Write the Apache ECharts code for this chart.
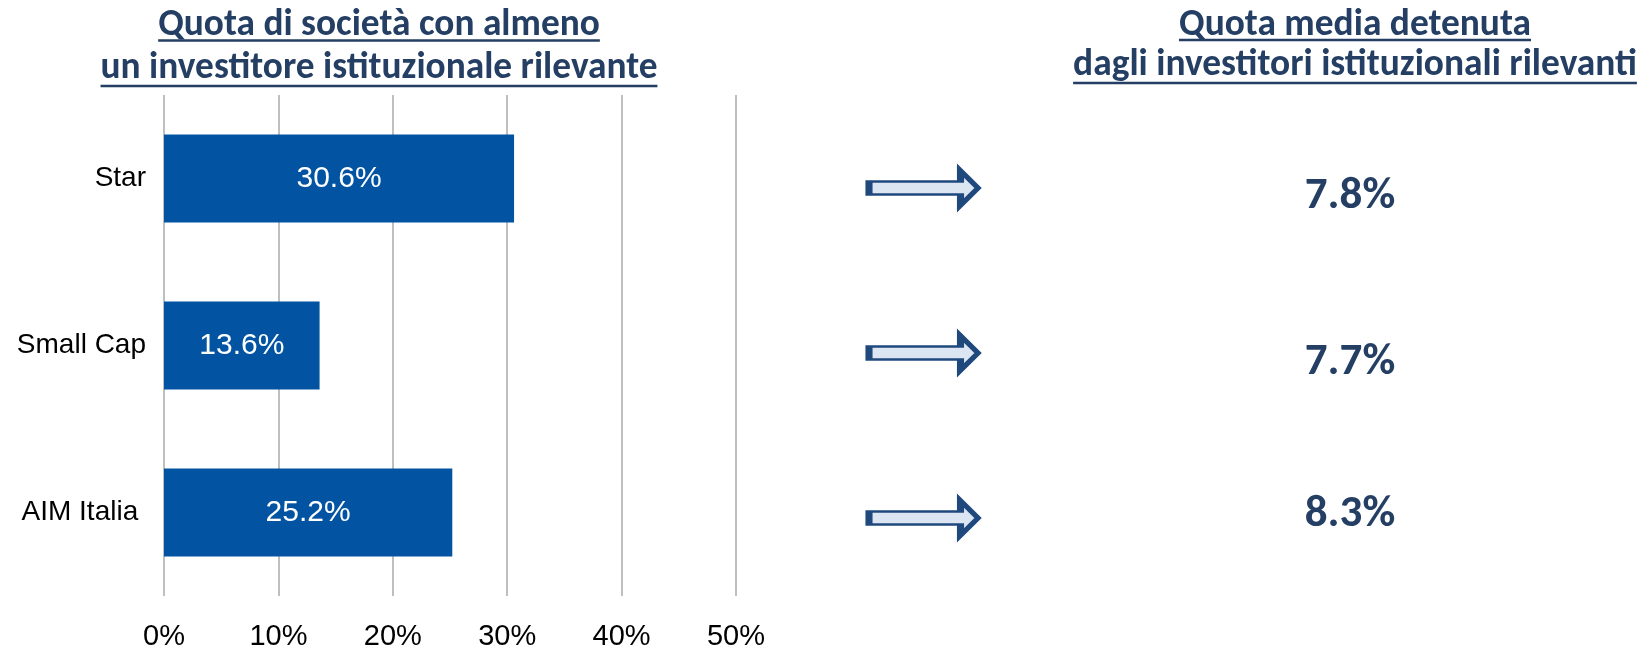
<!DOCTYPE html>
<html>
<head>
<meta charset="utf-8">
<script src="https://cdn.jsdelivr.net/npm/echarts@6/dist/echarts.min.js"></script>
<style>
html,body{margin:0;padding:0;background:#fff;}
#c{width:1642px;height:651px;}
</style>
</head>
<body>
<div id="c"></div>
<script>
// ---- data ----
const categories = ['Star', 'Small Cap', 'AIM Italia '];
const shareWithInvestor = [30.6, 13.6, 25.2];   // % of companies with at least one relevant institutional investor
const avgHeldShare = [7.8, 7.7, 8.3];           // average stake held by relevant institutional investors (%)
const xTickValues = [0, 10, 20, 30, 40, 50];
const leftTitle = ['Quota di società con almeno', 'un investitore istituzionale rilevante'];
const rightTitle = ['Quota media detenuta', 'dagli investitori istituzionali rilevanti'];

// ---- styling / layout ----
const DARK = '#243F63';
const TITLE_FAMILY = 'Carlito, Calibri, Lato, sans-serif';
const ARROW_PATH = 'path://M0,10.75 L91.5,10.75 L91.5,0 L109,17.25 L91.5,34.5 L91.5,23.75 L0,23.75 Z';
const numberLabelOffsetY = [8.5, 9.5, -3.5];

function measure(text, font) {
  const ctx = document.createElement('canvas').getContext('2d');
  ctx.font = font;
  return ctx.measureText(text).width;
}
function fitSize(text, targetWidth) {
  const w = measure(text, 'bold 30px ' + TITLE_FAMILY);
  return 30 * targetWidth / w;
}

function titleBlock(lines, cx, ys, underYs, targetWidth) {
  const size = fitSize(lines[1], targetWidth);
  const font = 'bold ' + size.toFixed(2) + 'px ' + TITLE_FAMILY;
  const els = [];
  lines.forEach((t, i) => {
    const w = measure(t, font);
    els.push({
      type: 'text',
      style: { text: t, x: cx, y: ys[i], font: font, fill: DARK, align: 'center', verticalAlign: 'middle' }
    });
    els.push({
      type: 'line',
      shape: { x1: cx - w / 2, y1: underYs[i], x2: cx + w / 2, y2: underYs[i] },
      style: { stroke: DARK, lineWidth: 2.4 }
    });
  });
  return els;
}

const chart = echarts.init(document.getElementById('c'), null, { renderer: 'canvas' });

const option = {
  backgroundColor: '#ffffff',
  animation: false,
  grid: [
    { left: 164, top: 95, width: 572, height: 502 },
    { left: 873.5, top: 105.5, width: 100, height: 495 }
  ],
  xAxis: [
    {
      gridIndex: 0,
      type: 'value',
      min: xTickValues[0],
      max: xTickValues[xTickValues.length - 1],
      interval: xTickValues[1] - xTickValues[0],
      axisLine: { show: false },
      axisTick: { show: false },
      splitLine: { show: true, lineStyle: { color: '#BFBFBF', width: 2 } },
      axisLabel: {
        formatter: '{value}%',
        color: '#000',
        fontFamily: '"Liberation Sans", Arial, sans-serif',
        fontSize: 29,
        margin: 26
      }
    },
    {
      gridIndex: 1,
      type: 'value',
      min: 0, max: 1,
      show: false
    }
  ],
  yAxis: [
    {
      gridIndex: 0,
      type: 'category',
      inverse: true,
      data: categories,
      axisLine: { show: false },
      axisTick: { show: false },
      splitLine: { show: false },
      axisLabel: {
        color: '#000',
        fontFamily: '"Liberation Sans", Arial, sans-serif',
        fontSize: 28,
        margin: 18
      }
    },
    {
      gridIndex: 1,
      type: 'category',
      inverse: true,
      data: categories,
      show: false
    }
  ],
  series: [
    {
      type: 'bar',
      xAxisIndex: 0,
      yAxisIndex: 0,
      data: shareWithInvestor,
      barWidth: 88,
      itemStyle: { color: '#0254A3' },
      label: {
        show: true,
        position: 'inside',
        color: '#fff',
        fontFamily: '"Liberation Sans", Arial, sans-serif',
        fontSize: 30,
        formatter: p => p.value.toFixed(1) + '%'
      }
    },
    {
      type: 'scatter',
      xAxisIndex: 1,
      yAxisIndex: 1,
      data: avgHeldShare.map((v, i) => ({
        value: [0.5, categories[i]],
        share: v,
        label: { offset: [426.5, numberLabelOffsetY[i]] }
      })),
      symbol: ARROW_PATH,
      symbolSize: [109, 34.5],
      itemStyle: {
        color: '#DCE6F2', borderColor: '#1F497D', borderWidth: 4,
        borderJoin: 'miter', borderMiterLimit: 10, opacity: 1
      },
      label: {
        show: true,
        position: 'inside',
        color: DARK,
        fontFamily: TITLE_FAMILY,
        fontWeight: 'bold',
        fontSize: 45,
        formatter: p => p.data.share.toFixed(1) + '%'
      },
      emphasis: { disabled: true }
    }
  ],
  graphic: [
    ...titleBlock(leftTitle, 379, [26, 69], [40.5, 86], 557),
    ...titleBlock(rightTitle, 1355, [26, 66], [40, 83], 564)
  ]
};

chart.setOption(option);
</script>
</body>
</html>
